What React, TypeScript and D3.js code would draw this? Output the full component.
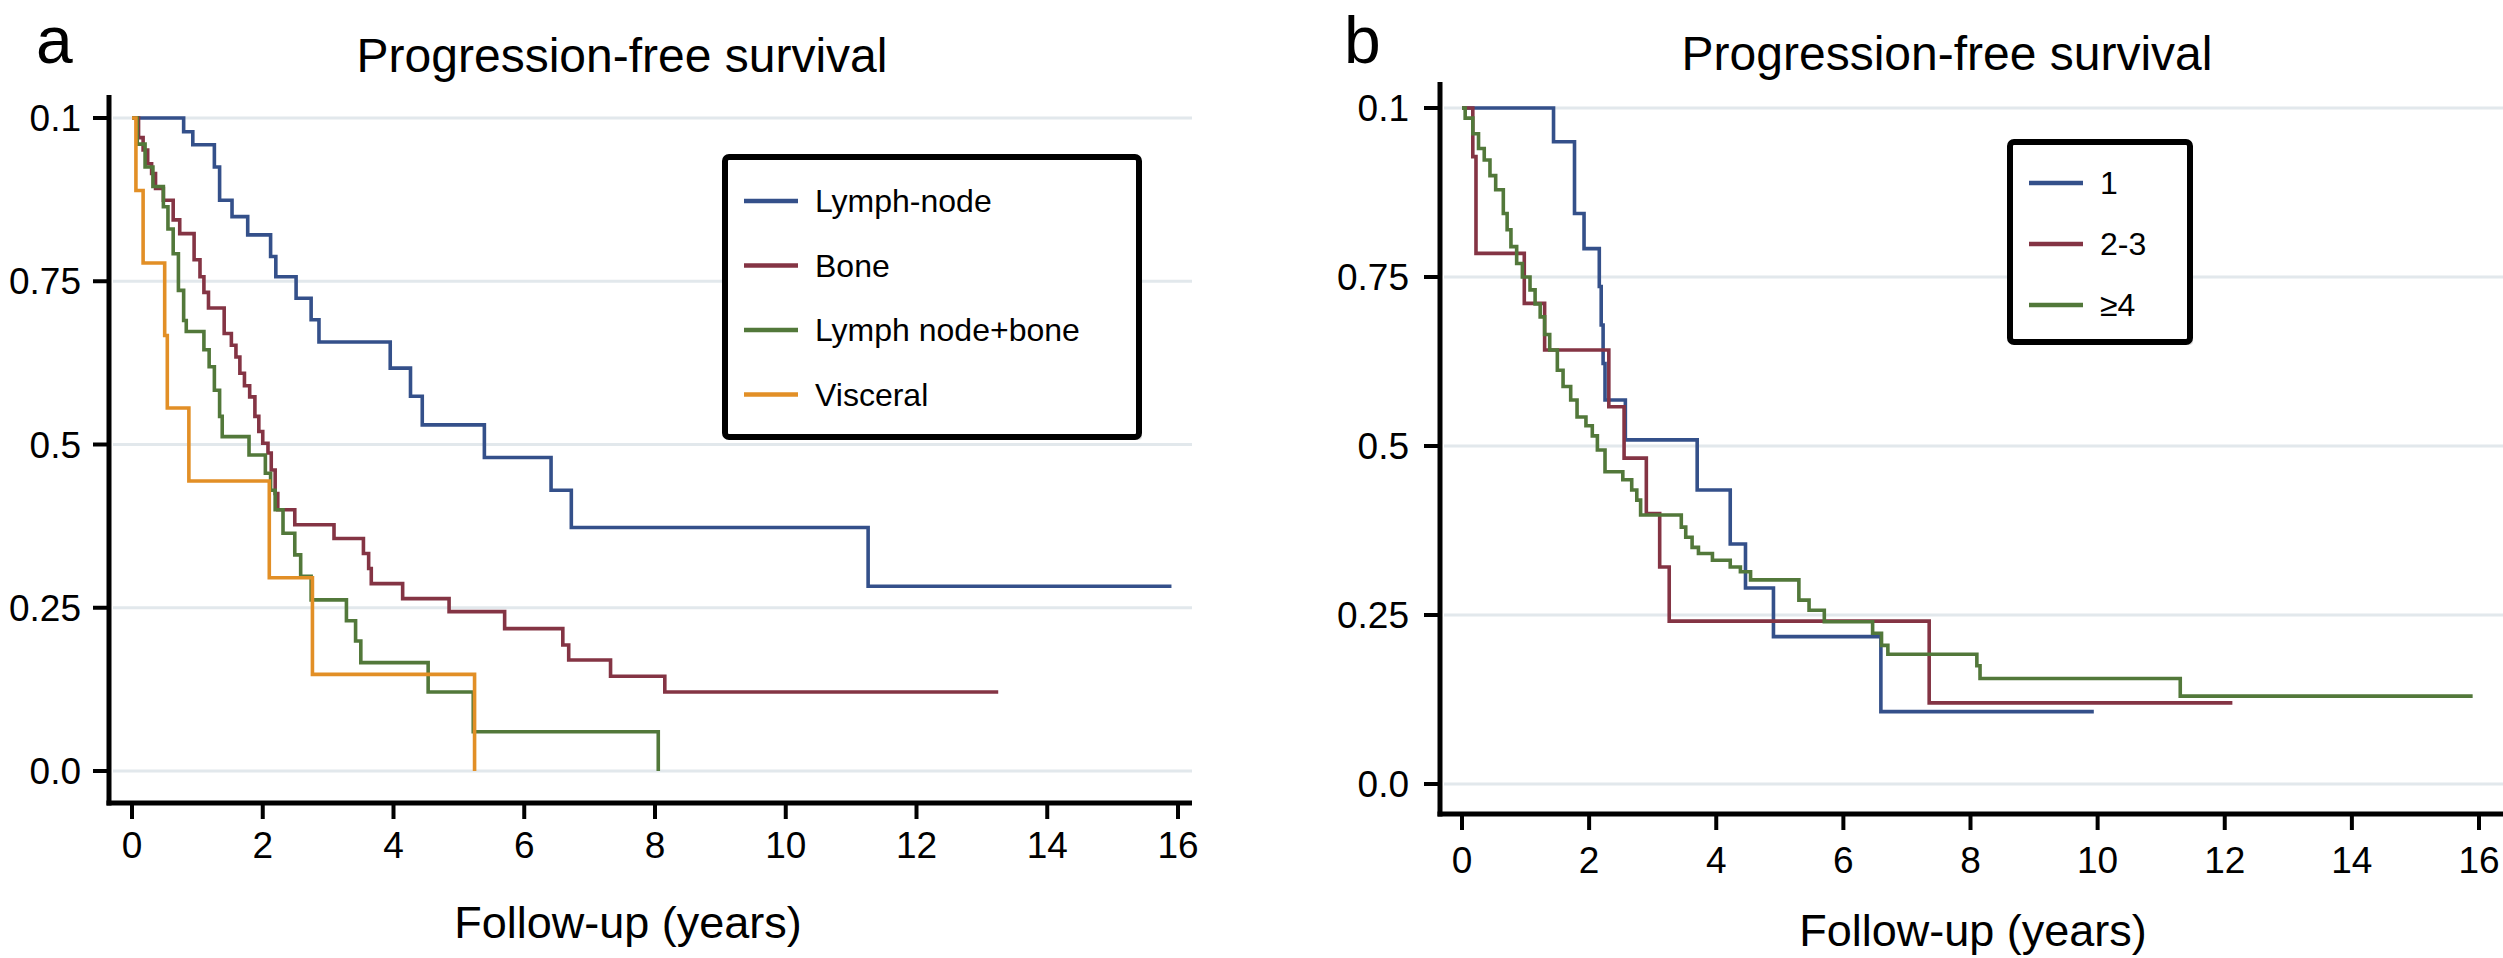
import * as d3 from "d3";

const W = 2503;
const H = 958;
const FONT = "'Liberation Sans', Arial, Helvetica, sans-serif";

// axis ticks (labels as printed in the figure)
const xTicks = [0, 2, 4, 6, 8, 10, 12, 14, 16];
const yTicks = [0, 0.25, 0.5, 0.75, 1];
const yTickLabels = ["0.0", "0.25", "0.5", "0.75", "0.1"];

// ---- panel a: site of metastasis ----
const lnTimes = [0.79, 0.93, 1.26, 1.34, 1.53, 1.77, 2.12, 2.2, 2.51, 2.74, 2.86, 3.95, 4.26, 4.44, 5.39, 6.41, 6.72, 11.26];
const lnSurv = [0.979, 0.959, 0.925, 0.874, 0.849, 0.821, 0.788, 0.757, 0.724, 0.691, 0.657, 0.617, 0.574, 0.53, 0.48, 0.43, 0.373, 0.283];
const lnEnd = 15.9;

const boneTimes = [0.1, 0.17, 0.24, 0.3, 0.36, 0.48, 0.63, 0.73, 0.95, 1.04, 1.1, 1.17, 1.41, 1.52, 1.59, 1.65, 1.72, 1.8, 1.88, 1.94, 2.0, 2.08, 2.13, 2.19, 2.23, 2.49, 3.09, 3.54, 3.62, 3.66, 4.14, 4.85, 5.7, 6.59, 6.68, 7.32, 8.15];
const boneSurv = [0.97, 0.951, 0.93, 0.915, 0.892, 0.874, 0.844, 0.823, 0.783, 0.757, 0.733, 0.709, 0.67, 0.652, 0.634, 0.609, 0.59, 0.573, 0.543, 0.52, 0.502, 0.487, 0.461, 0.425, 0.4, 0.377, 0.356, 0.333, 0.31, 0.287, 0.264, 0.244, 0.218, 0.193, 0.17, 0.145, 0.121];
const boneEnd = 13.25;

const lnBoneTimes = [0.08, 0.2, 0.32, 0.48, 0.55, 0.63, 0.71, 0.79, 0.83, 1.1, 1.18, 1.26, 1.34, 1.38, 1.79, 2.04, 2.12, 2.19, 2.31, 2.49, 2.58, 2.74, 3.28, 3.42, 3.5, 4.53, 5.22, 8.05];
const lnBoneSurv = [0.96, 0.925, 0.895, 0.864, 0.83, 0.792, 0.736, 0.69, 0.673, 0.645, 0.619, 0.583, 0.543, 0.512, 0.484, 0.456, 0.43, 0.4, 0.364, 0.331, 0.298, 0.262, 0.23, 0.199, 0.166, 0.121, 0.06, 0];
const lnBoneEnd = 8.05;

const viscTimes = [0.06, 0.17, 0.5, 0.54, 0.87, 2.1, 2.76, 5.24];
const viscSurv = [0.889, 0.778, 0.667, 0.556, 0.444, 0.296, 0.148, 0];
const viscEnd = 5.24;

const seriesA = [
  { name: "Lymph-node", color: "#34508a", times: lnTimes, surv: lnSurv, end: lnEnd },
  { name: "Bone", color: "#843444", times: boneTimes, surv: boneSurv, end: boneEnd },
  { name: "Lymph node+bone", color: "#52783a", times: lnBoneTimes, surv: lnBoneSurv, end: lnBoneEnd },
  { name: "Visceral", color: "#e28f26", times: viscTimes, surv: viscSurv, end: viscEnd },
];

// ---- panel b: number of metastases ----
const oneTimes = [1.44, 1.77, 1.92, 2.16, 2.19, 2.22, 2.25, 2.57, 3.7, 4.22, 4.46, 4.9, 6.59];
const oneSurv = [0.95, 0.844, 0.792, 0.736, 0.679, 0.622, 0.568, 0.509, 0.435, 0.355, 0.29, 0.218, 0.107];
const oneEnd = 9.94;

const twoTimes = [0.17, 0.22, 0.98, 1.3, 2.31, 2.55, 2.9, 3.11, 3.26, 7.35];
const twoSurv = [0.928, 0.785, 0.711, 0.642, 0.558, 0.482, 0.4, 0.321, 0.241, 0.12];
const twoEnd = 12.12;

const fourTimes = [0.05, 0.17, 0.26, 0.35, 0.44, 0.53, 0.65, 0.71, 0.77, 0.86, 0.95, 1.07, 1.15, 1.23, 1.3, 1.38, 1.5, 1.59, 1.71, 1.81, 1.95, 2.05, 2.13, 2.25, 2.53, 2.67, 2.75, 2.81, 3.45, 3.52, 3.62, 3.72, 3.94, 4.22, 4.38, 4.54, 5.3, 5.46, 5.7, 6.46, 6.6, 6.7, 8.1, 8.15, 11.3];
const fourSurv = [0.985, 0.962, 0.94, 0.923, 0.9, 0.879, 0.844, 0.82, 0.795, 0.77, 0.75, 0.731, 0.71, 0.691, 0.665, 0.642, 0.612, 0.588, 0.568, 0.543, 0.53, 0.515, 0.494, 0.462, 0.45, 0.435, 0.42, 0.398, 0.38, 0.365, 0.35, 0.341, 0.331, 0.321, 0.314, 0.302, 0.272, 0.257, 0.24, 0.223, 0.205, 0.192, 0.175, 0.156, 0.13];
const fourEnd = 15.9;

const seriesB = [
  { name: "1", color: "#34508a", times: oneTimes, surv: oneSurv, end: oneEnd },
  { name: "2-3", color: "#843444", times: twoTimes, surv: twoSurv, end: twoEnd },
  { name: "\u22654", color: "#52783a", times: fourTimes, surv: fourSurv, end: fourEnd },
];

type Series = { name: string; color: string; times: number[]; surv: number[]; end: number };

type Layout = {
  letter: string;
  letterX: number;
  title: string;
  titleX: number;
  titleY: number;
  axisX: number;
  axisTop: number;
  axisBottom: number;
  axisRight: number;
  x0: number;
  x16: number;
  y0: number;
  y1: number;
  xLabelY: number;
  yLabelX: number;
  xTitleX: number;
  xTitleY: number;
  legend: { x: number; y: number; w: number; h: number; firstY: number; step: number };
};

const layoutA: Layout = {
  letter: "a",
  letterX: 36,
  title: "Progression-free survival",
  titleX: 622,
  titleY: 72,
  axisX: 109,
  axisTop: 95,
  axisBottom: 803,
  axisRight: 1192,
  x0: 132,
  x16: 1178,
  y0: 771,
  y1: 118,
  xLabelY: 858,
  yLabelX: 81,
  xTitleX: 628,
  xTitleY: 938,
  legend: { x: 725, y: 157, w: 414, h: 280, firstY: 201, step: 64.5 },
};

const layoutB: Layout = {
  letter: "b",
  letterX: 1344,
  title: "Progression-free survival",
  titleX: 1947,
  titleY: 70,
  axisX: 1440,
  axisTop: 82,
  axisBottom: 814,
  axisRight: 2503,
  x0: 1462,
  x16: 2479,
  y0: 784,
  y1: 108,
  xLabelY: 873,
  yLabelX: 1409,
  xTitleX: 1973,
  xTitleY: 946,
  legend: { x: 2010, y: 142, w: 180, h: 200, firstY: 183, step: 61 },
};

function Panel({ L, series }: { L: Layout; series: Series[] }) {
  const x = d3.scaleLinear().domain([0, 16]).range([L.x0, L.x16]);
  const y = d3.scaleLinear().domain([0, 1]).range([L.y0, L.y1]);
  const line = d3
    .line<[number, number]>()
    .x((d) => x(d[0]))
    .y((d) => y(d[1]))
    .curve(d3.curveStepAfter);

  const paths = series.map((s) => {
    const pts: [number, number][] = [[0, 1]];
    s.times.forEach((t, i) => pts.push([t, s.surv[i]]));
    const last = s.surv[s.surv.length - 1];
    if (s.end > s.times[s.times.length - 1]) pts.push([s.end, last]);
    return { s, d: line(pts) as string };
  });

  const lg = L.legend;

  return (
    <g fontFamily={FONT}>
      <text x={L.letterX} y={63} fontSize={66}>
        {L.letter}
      </text>
      <text x={L.titleX} y={L.titleY} fontSize={48} textAnchor="middle">
        {L.title}
      </text>

      {/* gridlines */}
      {yTicks.map((v) => (
        <line key={"g" + v} x1={L.axisX + 4} x2={L.axisRight} y1={y(v)} y2={y(v)} stroke="#e2e8ec" strokeWidth={3} />
      ))}

      {/* curves */}
      {paths.map(({ s, d }) => (
        <path key={s.name} d={d} fill="none" stroke={s.color} strokeWidth={3.6} strokeLinejoin="miter" />
      ))}

      {/* legend */}
      <rect x={lg.x + 3} y={lg.y + 3} width={lg.w} height={lg.h} rx={4} fill="#bbbbbb" opacity={0.5} />
      <rect x={lg.x} y={lg.y} width={lg.w} height={lg.h} rx={4} fill="#ffffff" stroke="#000" strokeWidth={6} />
      {series.map((s, i) => {
        const ly = lg.firstY + i * lg.step;
        return (
          <g key={"l" + s.name}>
            <line x1={lg.x + 19} x2={lg.x + 73} y1={ly} y2={ly} stroke={s.color} strokeWidth={4.5} />
            <text x={lg.x + 90} y={ly + 11} fontSize={32}>
              {s.name}
            </text>
          </g>
        );
      })}

      {/* axes */}
      <line x1={L.axisX} x2={L.axisX} y1={L.axisTop} y2={L.axisBottom + 2.5} stroke="#000" strokeWidth={5} />
      <line x1={L.axisX - 2.5} x2={L.axisRight} y1={L.axisBottom} y2={L.axisBottom} stroke="#000" strokeWidth={5} />
      {yTicks.map((v, i) => (
        <g key={"yt" + v}>
          <line x1={L.axisX - 16} x2={L.axisX} y1={y(v)} y2={y(v)} stroke="#000" strokeWidth={4} />
          <text x={L.yLabelX} y={y(v) + 13} fontSize={37} textAnchor="end">
            {yTickLabels[i]}
          </text>
        </g>
      ))}
      {xTicks.map((t) => (
        <g key={"xt" + t}>
          <line x1={x(t)} x2={x(t)} y1={L.axisBottom} y2={L.axisBottom + 16} stroke="#000" strokeWidth={4} />
          <text x={x(t)} y={L.xLabelY} fontSize={37} textAnchor="middle">
            {t}
          </text>
        </g>
      ))}
      <text x={L.xTitleX} y={L.xTitleY} fontSize={45} textAnchor="middle">
        Follow-up (years)
      </text>
    </g>
  );
}

export default function App() {
  return (
    <div style={{ position: "absolute", left: 0, top: 0 }}>
      <svg width={W} height={H} viewBox={`0 0 ${W} ${H}`} style={{ display: "block", background: "#fff" }}>
        <rect width={W} height={H} fill="#fff" />
        <Panel L={layoutA} series={seriesA} />
        <Panel L={layoutB} series={seriesB} />
      </svg>
    </div>
  );
}
